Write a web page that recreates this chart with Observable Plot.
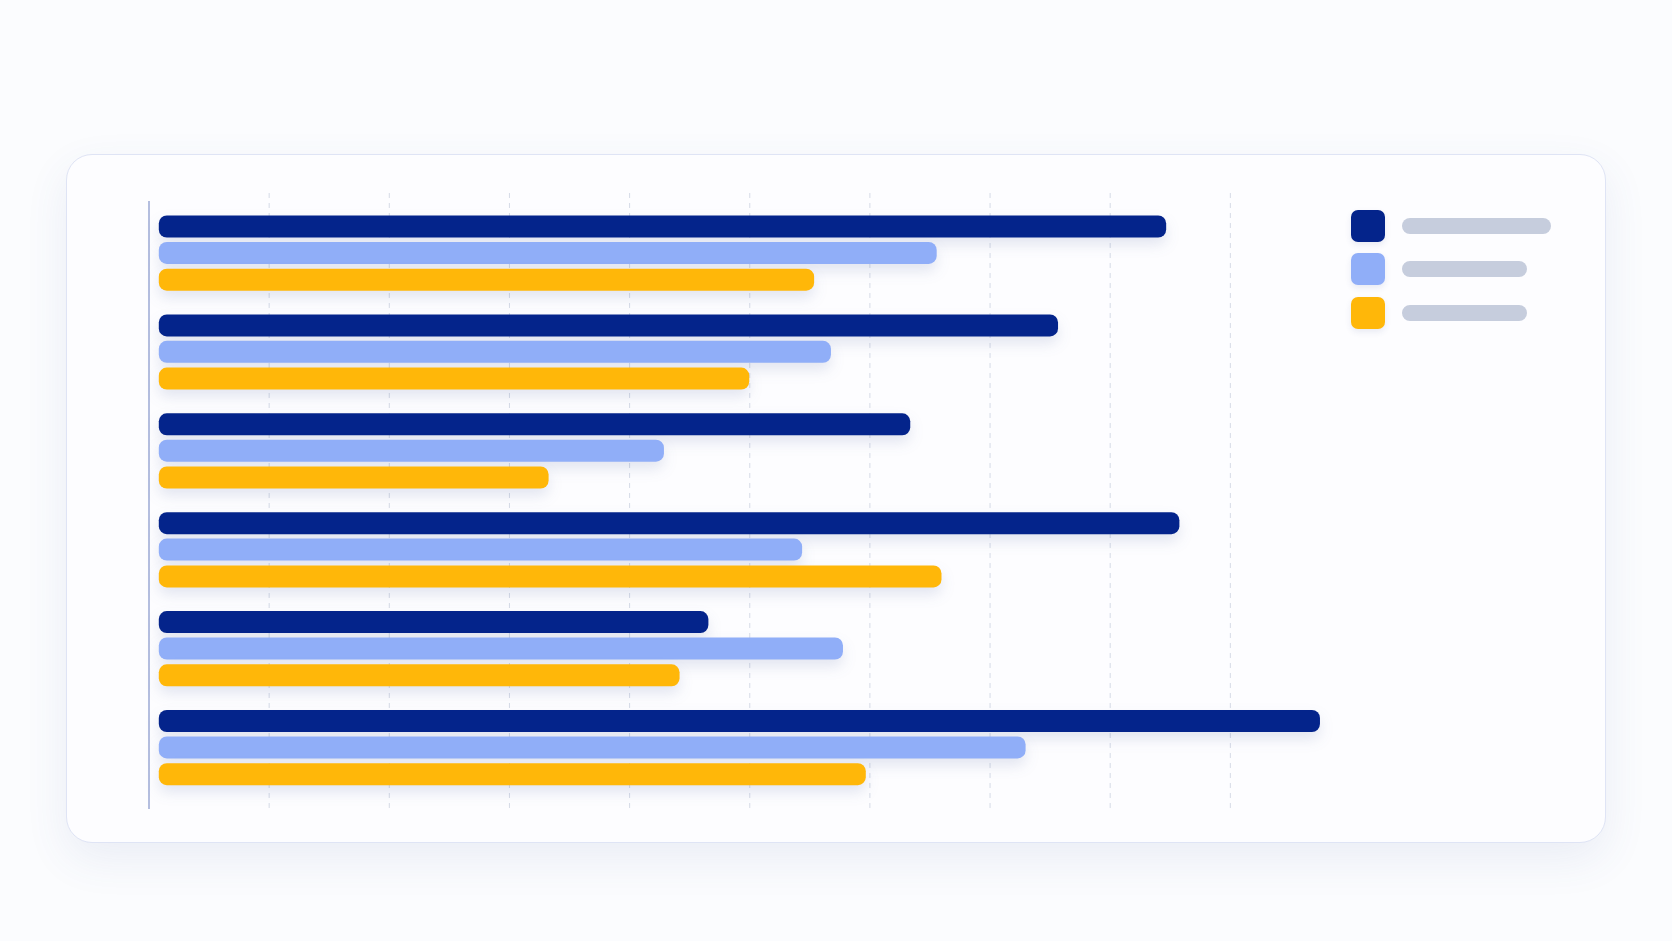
<!DOCTYPE html>
<html>
<head>
<meta charset="utf-8">
<script src="https://cdn.jsdelivr.net/npm/d3@7"></script>
<script src="https://cdn.jsdelivr.net/npm/@observablehq/plot@0.6"></script>
<style>
html,body{margin:0;padding:0;width:1672px;height:941px;overflow:hidden;background:#fbfcfe;font-family:Inter,"Noto Sans",sans-serif;}
#card{position:absolute;left:66px;top:154px;width:1540px;height:689px;box-sizing:border-box;border:1.5px solid #dfe4f5;border-radius:26px;background:#fdfdff;box-shadow:0 16px 44px rgba(70,90,160,0.09);}
#chart{position:absolute;left:0;top:0;}
#chart svg{background:transparent;}
#chart g[aria-label="bar"]{filter:drop-shadow(0 7px 7px rgba(50,70,140,0.13));}
#legend{position:absolute;left:1351px;top:210px;}
.item{display:flex;align-items:center;height:32px;margin-bottom:11.3px;}
.sw{width:34px;height:32px;border-radius:7px;box-shadow:0 3px 6px rgba(50,70,140,0.10);}
.pill{height:16px;border-radius:8px;background:#c6cddd;margin-left:17px;}
</style>
</head>
<body>
<div id="card"></div>
<div id="chart"></div>
<div id="legend"></div>
<script>
// ---- data ----
const groups = ["Group 1", "Group 2", "Group 3", "Group 4", "Group 5", "Group 6"];
const series = ["Series A", "Series B", "Series C"];
const seriesA = [84.7, 75.7, 63.4, 85.8, 46.6, 97.5];
const seriesB = [65.6, 56.8, 42.9, 54.4, 57.8, 73.0];
const seriesC = [55.4, 50.0, 33.3, 66.0, 44.2, 59.7];
const xTicks = [10, 20, 30, 40, 50, 60, 70, 80, 90];
const colors = ["#04248b", "#90aef8", "#ffb709"];

// ---- table for Plot ----
const valuesBySeries = [seriesA, seriesB, seriesC];
const rows = groups.flatMap((g, i) => series.map((s, k) => ({group: g, series: s, value: valuesBySeries[k][i]})));

// ---- layout constants ----
const step = 98.9, barH = 22, offsets = [11.2, 37.6, 64.4];
const bandTop = 204.3;

const marks = [
  Plot.ruleX(xTicks, {stroke: "#d6dbe7", strokeWidth: 1, strokeDasharray: "5,5"}),
  Plot.ruleX([0], {stroke: "#b4bedf", strokeWidth: 2, insetTop: 8}),
  ...series.map((s, k) => Plot.barX(rows.filter(d => d.series === s), {
    x: "value", y: "group", fill: "series", rx: 8,
    insetLeft: 10.3, insetTop: offsets[k], insetBottom: step - offsets[k] - barH
  }))
];

const chart = Plot.plot({
  width: 1672, height: 941,
  marginLeft: 148.5, marginRight: 322, marginTop: 193, marginBottom: 132,
  x: {domain: [0, 100], axis: null},
  y: {domain: groups, range: [bandTop, bandTop + groups.length * step], padding: 0, round: false, axis: null},
  color: {domain: series, range: colors},
  style: {background: "transparent", overflow: "visible"},
  marks
});
document.getElementById("chart").appendChild(chart);

// ---- legend (placeholder label pills, as in the reference) ----
const pillWidths = [149, 125, 125];
const legend = document.getElementById("legend");
series.forEach((s, k) => {
  const item = document.createElement("div");
  item.className = "item";
  item.setAttribute("title", s);
  const sw = document.createElement("div");
  sw.className = "sw";
  sw.style.background = colors[k];
  const pill = document.createElement("div");
  pill.className = "pill";
  pill.style.width = pillWidths[k] + "px";
  item.appendChild(sw);
  item.appendChild(pill);
  legend.appendChild(item);
});
</script>
</body>
</html>
